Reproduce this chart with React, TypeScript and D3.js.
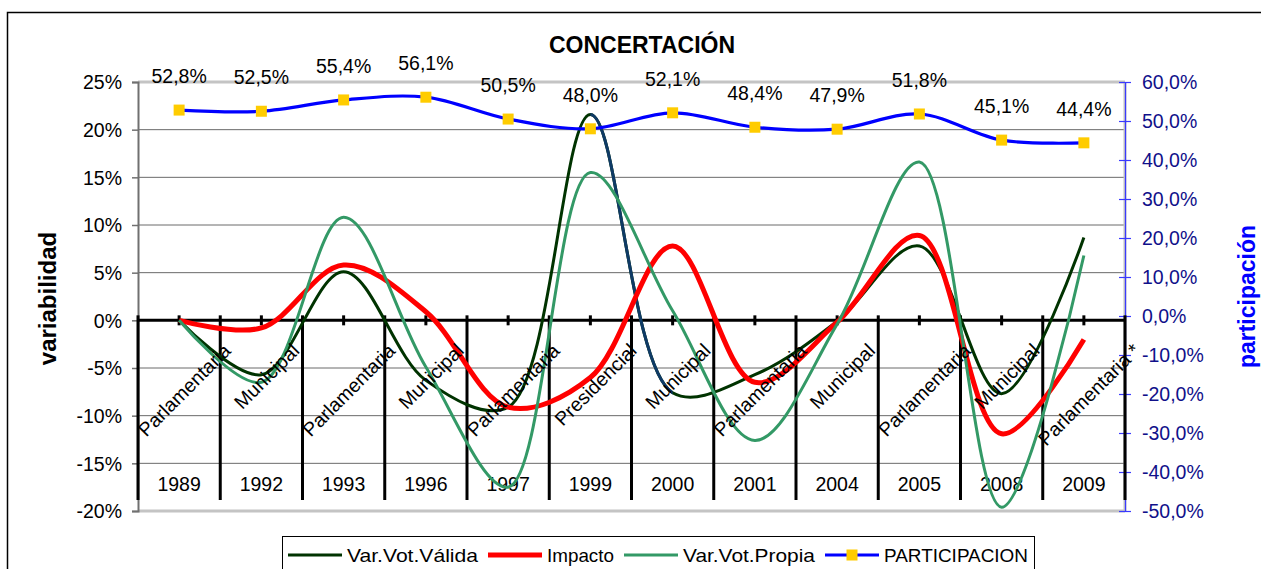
import React, { useRef, useEffect } from 'react'
import * as d3 from 'd3'

const years = ['1989', '1992', '1993', '1996', '1997', '1999', '2000', '2001', '2004', '2005', '2008', '2009']
const electionTypes = [
  'Parlamentaria', 'Municipal', 'Parlamentaria', 'Municipal', 'Parlamentaria', 'Presidencial',
  'Municipal', 'Parlamentaria', 'Municipal', 'Parlamentaria', 'Municipal', 'Parlamentaria *'
]

// variabilidad (eje izquierdo, %)
const varVotValida = [0, -5.7, 5.1, -6.3, -9.1, 21.6, -7.6, -5.7, -0.1, 7.8, -7.7, 8.7]
const impacto = [0, -0.8, 5.8, 0.9, -9.1, -6.0, 7.8, -6.5, -0.2, 8.9, -11.9, -2.0]
const varVotPropia = [0, -6.5, 10.8, -4.9, -17.5, 15.5, 1.0, -12.6, -0.4, 16.6, -19.6, 6.8]

// participación (eje derecho, %)
const participacion = [52.8, 52.5, 55.4, 56.1, 50.5, 48.0, 52.1, 48.4, 47.9, 51.8, 45.1, 44.4]

const leftTicks = [25, 20, 15, 10, 5, 0, -5, -10, -15, -20]
const rightTicks = [60, 50, 40, 30, 20, 10, 0, -10, -20, -30, -40, -50]

const legendLabels = ['Var.Vot.Válida', 'Impacto', 'Var.Vot.Propia', 'PARTICIPACION']

const FONT = '"Liberation Sans", Arial, Helvetica, sans-serif'

const measure = (txt: string, font: string) => {
  const ctx = document.createElement('canvas').getContext('2d')
  if (!ctx) return txt.length * 10
  ctx.font = font
  return ctx.measureText(txt).width
}

const comma = (v: number, digits: number) => v.toFixed(digits).replace('.', ',') + '%'

const App: React.FC = () => {
  const svgRef = useRef<SVGSVGElement>(null)

  useEffect(() => {
    if (!svgRef.current) return
    const svg = d3.select(svgRef.current)
    svg.selectAll('*').remove()

    const W = 1261
    const H = 569
    const left = 138
    const right = 1125
    const top = 82
    const bottom = 511

    svg.attr('width', W).attr('height', H).style('font-family', FONT)

    const x = d3.scaleBand().domain(years).range([left, right])
    const cx = (i: number) => (x(years[i]) as number) + x.bandwidth() / 2
    const yL = d3.scaleLinear().domain([-20, 25]).range([bottom, top])
    const yR = d3.scaleLinear().domain([-50, 60]).range([bottom, top])

    svg.append('rect').attr('width', W).attr('height', H).attr('fill', '#fff')

    // outer chart border (cut by the frame at right/bottom)
    svg.append('rect')
      .attr('x', 7.5).attr('y', 12.5)
      .attr('width', W + 20).attr('height', H + 20)
      .attr('fill', 'none').attr('stroke', '#000').attr('stroke-width', 1.5)

    // title
    svg.append('text')
      .attr('x', 642).attr('y', 53)
      .attr('text-anchor', 'middle')
      .style('font-size', '23px').style('font-weight', 'bold')
      .text('CONCERTACIÓN')

    // gridlines
    svg.append('g').selectAll('line')
      .data(leftTicks.filter(t => t !== 25 && t !== -20 && t !== 0))
      .enter().append('line')
      .attr('x1', left).attr('x2', right)
      .attr('y1', d => yL(d)).attr('y2', d => yL(d))
      .attr('stroke', '#6a6a6a').attr('stroke-width', 1)

    // plot area frame (light grey top/bottom/right)
    svg.append('line')
      .attr('x1', left).attr('x2', right).attr('y1', yL(25)).attr('y2', yL(25))
      .attr('stroke', '#c4c4c4').attr('stroke-width', 3)
    svg.append('line')
      .attr('x1', left).attr('x2', right).attr('y1', yL(-20)).attr('y2', yL(-20))
      .attr('stroke', '#c4c4c4').attr('stroke-width', 3)
    svg.append('line')
      .attr('x1', right).attr('x2', right).attr('y1', top).attr('y2', bottom)
      .attr('stroke', '#c4c4c4').attr('stroke-width', 3)

    // left axis
    const gL = svg.append('g').attr('transform', `translate(${left},0)`)
      .call(d3.axisLeft(yL).tickValues(leftTicks).tickSize(6).tickFormat(d => `${d}%`))
    gL.select('.domain').attr('stroke', '#707070').attr('stroke-width', 2)
    gL.selectAll('.tick line').attr('stroke', '#707070').attr('stroke-width', 1.5)
    gL.selectAll('.tick text')
      .attr('x', -16).attr('dy', '0.35em')
      .style('font-size', '19.5px').style('font-family', FONT).attr('fill', '#000')

    // right axis (blue)
    const gR = svg.append('g').attr('transform', `translate(${right},0)`)
      .call(d3.axisRight(yR).tickValues(rightTicks).tickSize(6).tickFormat(d => comma(+d, 1)))
    gR.select('.domain').attr('stroke', '#3a3aff').attr('stroke-width', 1.2)
    gR.selectAll('.tick line').attr('x1', -6).attr('x2', 6).attr('stroke', '#3a3aff').attr('stroke-width', 1.2)
    gR.selectAll('.tick text')
      .attr('x', 17).attr('dy', '0.35em')
      .style('font-size', '19.5px').style('font-family', FONT).attr('fill', '#10108a')

    // category boundaries (long black dividers below the zero line)
    const bounds = d3.range(years.length + 1).map(i =>
      i < years.length ? (x(years[i]) as number) : right)
    svg.append('g').selectAll('line')
      .data(bounds)
      .enter().append('line')
      .attr('x1', d => d).attr('x2', d => d)
      .attr('y1', yL(0) - 5).attr('y2', 500)
      .attr('stroke', '#000').attr('stroke-width', 3)

    // zero line with ticks at category centres
    svg.append('line')
      .attr('x1', left).attr('x2', right).attr('y1', yL(0)).attr('y2', yL(0))
      .attr('stroke', '#000').attr('stroke-width', 3)
    svg.append('g').selectAll('line')
      .data(years)
      .enter().append('line')
      .attr('x1', (d, i) => cx(i)).attr('x2', (d, i) => cx(i))
      .attr('y1', yL(0) - 5).attr('y2', yL(0) + 5)
      .attr('stroke', '#000').attr('stroke-width', 3)

    // year labels
    svg.append('g').selectAll('text')
      .data(years)
      .enter().append('text')
      .attr('x', (d, i) => cx(i)).attr('y', 491)
      .attr('text-anchor', 'middle')
      .style('font-size', '19.5px')
      .text(d => d)

    const curve = d3.curveCatmullRom.alpha(0.5)
    const lineL = d3.line<number>()
      .x((d, i) => cx(i))
      .y(d => yL(d))
      .curve(curve)
    const lineR = d3.line<number>()
      .x((d, i) => cx(i))
      .y(d => yR(d))
      .curve(curve)

    // clip for the 1999-2000 segment shown in navy
    const defs = svg.append('defs')
    defs.append('clipPath').attr('id', 'seg99')
      .append('rect')
      .attr('x', cx(5)).attr('y', 0)
      .attr('width', cx(6) - cx(5)).attr('height', H)

    svg.append('path')
      .datum(varVotValida)
      .attr('d', lineL)
      .attr('fill', 'none').attr('stroke', '#003300').attr('stroke-width', 3)
    svg.append('path')
      .datum(varVotValida)
      .attr('d', lineL)
      .attr('clip-path', 'url(#seg99)')
      .attr('fill', 'none').attr('stroke', '#0f3a66').attr('stroke-width', 3)

    svg.append('path')
      .datum(impacto)
      .attr('d', lineL)
      .attr('fill', 'none').attr('stroke', '#ff0000').attr('stroke-width', 5)
      .attr('stroke-linejoin', 'round')

    svg.append('path')
      .datum(varVotPropia)
      .attr('d', lineL)
      .attr('fill', 'none').attr('stroke', '#339966').attr('stroke-width', 3)

    // election type labels, rotated -45deg
    const catFont = `19.5px ${FONT}`
    svg.append('g').selectAll('text')
      .data(electionTypes)
      .enter().append('text')
      .attr('text-anchor', 'end')
      .attr('transform', (d, i) => {
        const L = measure(d, catFont)
        const px = cx(i) + 0.7071 * L / 2 + 10
        return `translate(${px},352) rotate(-45)`
      })
      .style('font-size', '19.5px')
      .text(d => d)

    // participation line
    svg.append('path')
      .datum(participacion)
      .attr('d', lineR)
      .attr('fill', 'none').attr('stroke', '#0000ff').attr('stroke-width', 3.2)

    svg.append('g').selectAll('rect')
      .data(participacion)
      .enter().append('rect')
      .attr('x', (d, i) => cx(i) - 5.5).attr('y', d => yR(d) - 5.5)
      .attr('width', 11).attr('height', 11)
      .attr('fill', '#ffcc00')

    svg.append('g').selectAll('text')
      .data(participacion)
      .enter().append('text')
      .attr('x', (d, i) => cx(i)).attr('y', d => yR(d) - 27)
      .attr('text-anchor', 'middle')
      .style('font-size', '19.5px')
      .text(d => comma(d, 1))

    // axis titles
    svg.append('text')
      .attr('transform', `translate(56,${(top + bottom) / 2 + 2}) rotate(-90)`)
      .attr('text-anchor', 'middle')
      .style('font-size', '24px').style('font-weight', 'bold')
      .text('variabilidad')
    svg.append('text')
      .attr('transform', `translate(1255,${(top + bottom) / 2}) rotate(-90)`)
      .attr('text-anchor', 'middle')
      .attr('fill', '#0000ff')
      .style('font-size', '23px').style('font-weight', 'bold')
      .text('participación')

    // legend
    const legend = svg.append('g')
    legend.append('rect')
      .attr('x', 282.5).attr('y', 536.5)
      .attr('width', 752).attr('height', 60)
      .attr('fill', '#fff').attr('stroke', '#000').attr('stroke-width', 1)

    const legendStyles = [
      { color: '#003300', width: 3, marker: false },
      { color: '#ff0000', width: 5, marker: false },
      { color: '#339966', width: 3, marker: false },
      { color: '#0000ff', width: 3, marker: true }
    ]
    const textWidths = [131, 67, 132, 144]
    let lx = 288
    legendLabels.forEach((lab, i) => {
      const st = legendStyles[i]
      legend.append('line')
        .attr('x1', lx).attr('x2', lx + 54).attr('y1', 555).attr('y2', 555)
        .attr('stroke', st.color).attr('stroke-width', st.width)
      if (st.marker) {
        legend.append('rect')
          .attr('x', lx + 27 - 5.5).attr('y', 555 - 5.5)
          .attr('width', 11).attr('height', 11).attr('fill', '#ffcc00')
      }
      legend.append('text')
        .attr('x', lx + 59).attr('y', 561.5)
        .attr('textLength', textWidths[i]).attr('lengthAdjust', 'spacingAndGlyphs')
        .style('font-size', '18.5px')
        .text(lab)
      lx += 59 + textWidths[i] + 10
    })
  }, [])

  return (
    <div style={{ position: 'absolute', left: 0, top: 0 }}>
      <svg ref={svgRef}></svg>
    </div>
  )
}

export default App
